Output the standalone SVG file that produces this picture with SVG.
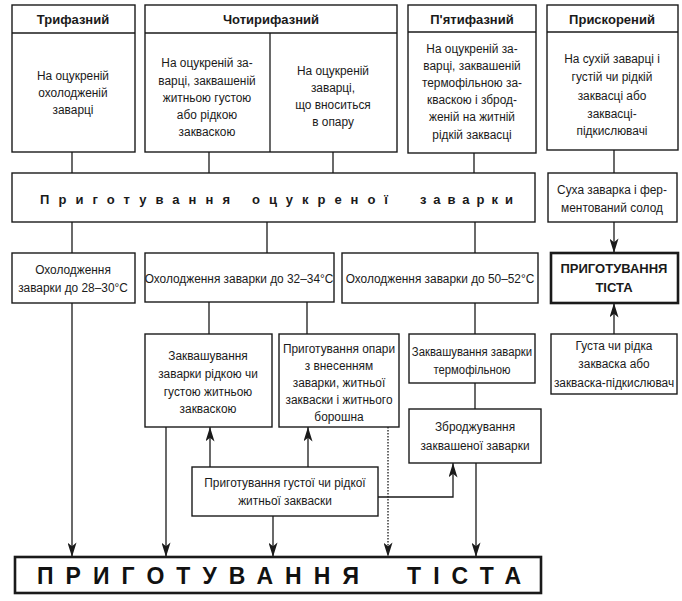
<svg xmlns="http://www.w3.org/2000/svg" width="682" height="601" viewBox="0 0 682 601">
<defs>
<style>
.b{fill:#fff;stroke:#1a1a1a;stroke-width:1.4}
.bb{fill:#fff;stroke:#1a1a1a;stroke-width:2.6}
.l{fill:none;stroke:#1a1a1a;stroke-width:1.3}
.d{fill:none;stroke:#1a1a1a;stroke-width:1.3;stroke-dasharray:1.5 1.5}
.t{font-family:"Liberation Sans",Arial,sans-serif;font-size:13.5px;fill:#1a1a1a;text-anchor:middle}
.h{font-family:"Liberation Sans","DejaVu Sans",sans-serif;font-size:13px;font-weight:bold;fill:#1a1a1a;text-anchor:middle}
.s{font-family:"Liberation Sans","DejaVu Sans",sans-serif;font-size:13px;font-weight:bold;fill:#1a1a1a}
.g{font-family:"Liberation Sans","DejaVu Sans",sans-serif;font-size:23px;font-weight:bold;fill:#111}
</style>
<marker id="ar" markerUnits="userSpaceOnUse" viewBox="0 0 16 10" refX="16" refY="5" markerWidth="16" markerHeight="9" orient="auto">
<path d="M0,0 L16,5 L0,10 L4,5 z" fill="#1a1a1a"/>
</marker>
</defs>
<rect width="682" height="601" fill="#fff"/>

<g id="connectors">
<line class="l" x1="72" y1="152" x2="72" y2="173"/>
<line class="l" x1="209" y1="152" x2="209" y2="173"/>
<line class="l" x1="333" y1="152" x2="333" y2="173"/>
<line class="l" x1="474" y1="153" x2="474" y2="173"/>
<line class="l" x1="614" y1="150" x2="614" y2="173"/>
<line class="l" x1="72" y1="222" x2="72" y2="253"/>
<line class="l" x1="267" y1="222" x2="267" y2="253"/>
<line class="l" x1="475" y1="222" x2="475" y2="253"/>
<line class="l" x1="614" y1="222" x2="614" y2="253" marker-end="url(#ar)"/>
<line class="l" x1="614" y1="334" x2="614" y2="303" marker-end="url(#ar)"/>
<line class="l" x1="209" y1="302" x2="209" y2="334"/>
<line class="l" x1="307" y1="302" x2="307" y2="334"/>
<line class="l" x1="475" y1="303" x2="475" y2="334"/>
<line class="l" x1="475" y1="383" x2="475" y2="409"/>
<line class="l" x1="72" y1="303" x2="72" y2="557" marker-end="url(#ar)"/>
<line class="l" x1="166" y1="427" x2="166" y2="557" marker-end="url(#ar)"/>
<line class="l" x1="210" y1="467" x2="210" y2="427" marker-end="url(#ar)"/>
<line class="l" x1="308" y1="467" x2="308" y2="427" marker-end="url(#ar)"/>
<line class="l" x1="273" y1="516" x2="273" y2="557" marker-end="url(#ar)"/>
<line class="d" x1="388" y1="427" x2="388" y2="557" marker-end="url(#ar)"/>
<line class="l" x1="476" y1="463" x2="476" y2="557" marker-end="url(#ar)"/>
<polyline class="l" points="378,497 453,497 453,463" marker-end="url(#ar)"/>
</g>

<g id="trifazny">
<rect class="b" x="12" y="5" width="123" height="147"/>
<line class="l" x1="12" y1="33" x2="135" y2="33"/>
<text class="h" x="73" y="24">Трифазний</text>
<g transform="matrix(0.88 0 0 1 8.76 0)">
<text class="t" x="73" y="80">На оцукреній</text>
<text class="t" x="73" y="97">охолодженій</text>
<text class="t" x="73" y="114">заварці</text>
</g>
</g>

<g id="chotyryfazny">
<rect class="b" x="145" y="5" width="252" height="147"/>
<line class="l" x1="145" y1="33" x2="397" y2="33"/>
<line class="l" x1="270" y1="33" x2="270" y2="152"/>
<text class="h" x="271" y="24">Чотирифазний</text>
<g transform="matrix(0.88 0 0 1 24.84 0)">
<text class="t" x="207" y="67">На оцукреній за-</text>
<text class="t" x="207" y="85">варці, заквашеній</text>
<text class="t" x="207" y="102">житньою густою</text>
<text class="t" x="207" y="119">або рідкою</text>
<text class="t" x="207" y="136">закваскою</text>
</g>
<g transform="matrix(0.88 0 0 1 39.96 0)">
<text class="t" x="333" y="75">На оцукреній</text>
<text class="t" x="333" y="92">заварці,</text>
<text class="t" x="333" y="109">що вноситься</text>
<text class="t" x="333" y="126">в опару</text>
</g>
</g>

<g id="piatyfazny">
<rect class="b" x="408" y="5" width="128" height="148"/>
<line class="l" x1="408" y1="32" x2="536" y2="32"/>
<text class="h" x="472" y="24">П'ятифазний</text>
<g transform="matrix(0.88 0 0 1 56.64 0)">
<text class="t" x="472" y="53">На оцукреній за-</text>
<text class="t" x="472" y="70">варці, заквашеній</text>
<text class="t" x="472" y="87">термофільною за-</text>
<text class="t" x="472" y="104">кваскою і зброд-</text>
<text class="t" x="472" y="121">женій на житній</text>
<text class="t" x="472" y="139">рідкій заквасці</text>
</g>
</g>

<g id="pryskorenyi">
<rect class="b" x="547" y="5" width="131" height="145"/>
<line class="l" x1="547" y1="32" x2="678" y2="32"/>
<text class="h" x="612" y="24">Прискорений</text>
<g transform="matrix(0.88 0 0 1 73.44 0)">
<text class="t" x="612" y="63">На сухій заварці і</text>
<text class="t" x="612" y="81">густій чи рідкій</text>
<text class="t" x="612" y="100">заквасці  або</text>
<text class="t" x="612" y="118">заквасці-</text>
<text class="t" x="612" y="135">підкислювачі</text>
</g>
</g>

<g id="pryhotuvannia-zavarky">
<rect class="b" x="12" y="173" width="523" height="49"/>
<text class="s" x="40" y="204" textLength="190" lengthAdjust="spacing">Приготування</text>
<text class="s" x="252" y="204" textLength="136" lengthAdjust="spacing">оцукреної</text>
<text class="s" x="420" y="204" textLength="93" lengthAdjust="spacing">заварки</text>
</g>

<g id="sukha-zavarka">
<rect class="b" x="548" y="173" width="129" height="49"/>
<g transform="matrix(0.88 0 0 1 73.44 0)">
<text class="t" x="612" y="194">Суха заварка і фер-</text>
<text class="t" x="612" y="212">ментований солод</text>
</g>
</g>

<g id="okholodzhennia-28">
<rect class="b" x="12" y="253" width="123" height="50"/>
<g transform="matrix(0.88 0 0 1 8.76 0)">
<text class="t" x="73" y="274">Охолодження</text>
<text class="t" x="73" y="292">заварки до 28–30°С</text>
</g>
</g>

<g id="okholodzhennia-32">
<rect class="b" x="145" y="253" width="189" height="49"/>
<g transform="matrix(0.88 0 0 1 28.68 0)">
<text class="t" x="239" y="283">Охолодження заварки до 32–34°С</text>
</g>
</g>

<g id="okholodzhennia-50">
<rect class="b" x="342" y="253" width="196" height="50"/>
<g transform="matrix(0.88 0 0 1 52.8 0)">
<text class="t" x="440" y="283">Охолодження заварки до 50–52°С</text>
</g>
</g>

<g id="tisto-pryskorene">
<rect class="bb" x="551" y="253" width="127" height="50"/>
<text class="h" x="614" y="273">ПРИГОТУВАННЯ</text>
<text class="h" x="614" y="292">ТІСТА</text>
</g>

<g id="zakvashuvannia-ridkoiu">
<rect class="b" x="145" y="334" width="127" height="93"/>
<g transform="matrix(0.88 0 0 1 24.96 0)">
<text class="t" x="208" y="360">Заквашування</text>
<text class="t" x="208" y="378">заварки рідкою чи</text>
<text class="t" x="208" y="396">густою житньою</text>
<text class="t" x="208" y="413">закваскою</text>
</g>
</g>

<g id="opara">
<rect class="b" x="279" y="334" width="120" height="93"/>
<g transform="matrix(0.88 0 0 1 40.68 0)">
<text class="t" x="339" y="353">Приготування опари</text>
<text class="t" x="339" y="370">з внесенням</text>
<text class="t" x="339" y="387">заварки, житньої</text>
<text class="t" x="339" y="404">закваски і житнього</text>
<text class="t" x="339" y="421">борошна</text>
</g>
</g>

<g id="zakvashuvannia-termofilnoiu">
<rect class="b" x="409" y="334" width="126" height="49"/>
<g transform="matrix(0.84 0 0 1 75.52 0)">
<text class="t" x="472" y="356">Заквашування заварки</text>
<text class="t" x="472" y="374">термофільною</text>
</g>
</g>

<g id="zbrodzhuvannia">
<rect class="b" x="409" y="409" width="132" height="54"/>
<g transform="matrix(0.88 0 0 1 57 0)">
<text class="t" x="475" y="431">Зброджування</text>
<text class="t" x="475" y="450">заквашеної заварки</text>
</g>
</g>

<g id="husta-chy-ridka">
<rect class="b" x="551" y="334" width="126" height="60"/>
<g transform="matrix(0.88 0 0 1 73.68 0)">
<text class="t" x="614" y="350">Густа чи рідка</text>
<text class="t" x="614" y="368">закваска або</text>
<text class="t" x="614" y="387">закваска-підкислювач</text>
</g>
</g>

<g id="zakvaska">
<rect class="b" x="192" y="467" width="186" height="49"/>
<g transform="matrix(0.88 0 0 1 34.2 0)">
<text class="t" x="285" y="487">Приготування густої чи рідкої</text>
<text class="t" x="285" y="505">житньої закваски</text>
</g>
</g>

<g id="tisto">
<rect class="bb" x="15" y="557" width="526" height="36"/>
<text class="g" x="37" y="584" textLength="322" lengthAdjust="spacing">ПРИГОТУВАННЯ</text>
<text class="g" x="407" y="584" textLength="114" lengthAdjust="spacing">ТІСТА</text>
</g>
</svg>
